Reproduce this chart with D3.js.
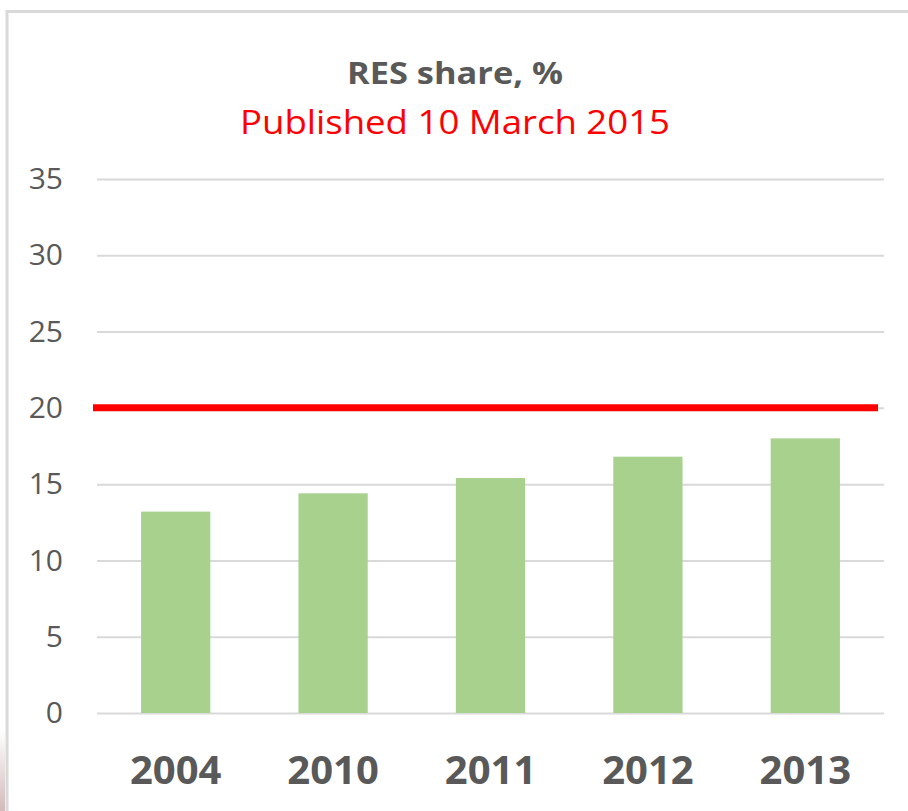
<!DOCTYPE html>
<html>
<head>
<meta charset="utf-8">
<script src="https://cdn.jsdelivr.net/npm/d3@7"></script>
<style>
  html, body { margin: 0; padding: 0; background: #fff; }
  svg { display: block; }
</style>
</head>
<body>
<div id="chart"></div>
<script>
// data
const years = ['2004', '2010', '2011', '2012', '2013'];
const resShare = [13.2, 14.4, 15.4, 16.8, 18.0];
const target = 20;
const yTicks = [0, 5, 10, 15, 20, 25, 30, 35];
const titleText = 'RES share, %';
const subtitleText = 'Published 10 March 2015';

const width = 908, height = 811;
const grey = '#595959';

const svg = d3.select('#chart')
  .append('svg')
  .attr('width', width)
  .attr('height', height);

svg.append('rect')
  .attr('width', width)
  .attr('height', height)
  .attr('fill', '#fff');

// faint pink smudge at the bottom-left edge
const grad = svg.append('defs').append('linearGradient')
  .attr('id', 'smudge')
  .attr('x1', 0).attr('y1', 0).attr('x2', 0).attr('y2', 1);
grad.append('stop').attr('offset', '0%').attr('stop-color', '#fff');
grad.append('stop').attr('offset', '100%').attr('stop-color', '#d2babb');
svg.append('rect')
  .attr('x', 0).attr('y', 730)
  .attr('width', 5).attr('height', 81)
  .attr('fill', 'url(#smudge)');

// frame of the chart area (left + top)
svg.append('path')
  .attr('d', `M7,${height} V11.5 H${width}`)
  .attr('fill', 'none')
  .attr('stroke', '#d9d9d9')
  .attr('stroke-width', 3);

const x = d3.scaleBand()
  .domain(years)
  .range([97, 884])
  .paddingInner(0.56)
  .paddingOuter(0.28);

const y = d3.scaleLinear()
  .domain([0, 35])
  .range([713, 179]);

// gridlines + y labels
const yAxis = svg.append('g')
  .attr('transform', `translate(${x.range()[0]}, 0)`)
  .call(d3.axisLeft(y)
    .tickValues(yTicks)
    .tickSize(-(x.range()[1] - x.range()[0]))
    .tickPadding(34));

yAxis.select('.domain').remove();
yAxis.selectAll('line')
  .attr('stroke', '#d9d9d9')
  .attr('stroke-width', 2);
yAxis.selectAll('text')
  .attr('fill', grey)
  .style('font-family', '"Open Sans", sans-serif')
  .style('font-size', '30px');

// bars
svg.selectAll('.bar')
  .data(resShare)
  .enter()
  .append('rect')
  .attr('class', 'bar')
  .attr('x', (d, i) => x(years[i]))
  .attr('y', d => y(d))
  .attr('width', x.bandwidth())
  .attr('height', d => y(0) - y(d))
  .attr('fill', '#a9d18e');

// 20% target line
svg.append('line')
  .attr('x1', x.range()[0] - 4)
  .attr('x2', x.range()[1] - 6)
  .attr('y1', y(target))
  .attr('y2', y(target))
  .attr('stroke', '#ff0000')
  .attr('stroke-width', 7);

// x labels
const xAxis = svg.append('g')
  .attr('transform', `translate(0, ${y(0)})`)
  .call(d3.axisBottom(x).tickSize(0).tickPadding(43));

xAxis.select('.domain').remove();
xAxis.selectAll('text')
  .attr('fill', grey)
  .style('font-family', '"Open Sans", sans-serif')
  .style('font-weight', 'bold')
  .style('font-size', '40px');

// titles
svg.append('text')
  .attr('x', 455)
  .attr('y', 84)
  .attr('text-anchor', 'middle')
  .attr('fill', grey)
  .attr('textLength', 216)
  .attr('lengthAdjust', 'spacingAndGlyphs')
  .style('font-family', '"Open Sans", sans-serif')
  .style('font-weight', 'bold')
  .style('font-size', '30px')
  .text(titleText);

svg.append('text')
  .attr('x', 455)
  .attr('y', 134)
  .attr('text-anchor', 'middle')
  .attr('fill', '#ff0000')
  .attr('textLength', 430)
  .attr('lengthAdjust', 'spacingAndGlyphs')
  .style('font-family', '"Open Sans", sans-serif')
  .style('font-size', '33px')
  .text(subtitleText);
</script>
</body>
</html>
